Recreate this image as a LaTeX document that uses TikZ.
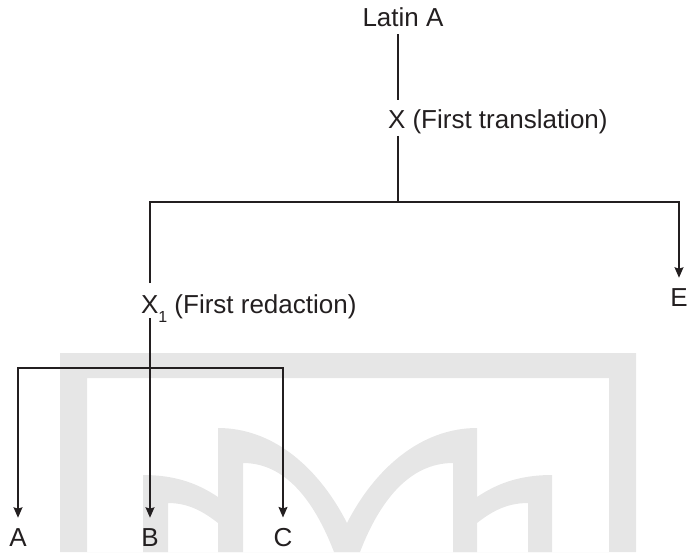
\documentclass[tikz,border=0pt]{standalone}
\usepackage{fontspec}
\setmainfont{Liberation Sans}
\usetikzlibrary{arrows.meta}
\definecolor{ink}{HTML}{231F20}
\definecolor{emblem}{HTML}{E6E6E6}
\begin{document}
\begin{tikzpicture}[x=1pt,y=-1pt,
  lbl/.style={inner sep=0pt, outer sep=0pt, text=ink, anchor=base,
              font=\fontsize{26}{30}\selectfont},
  wire/.style={draw=ink, line width=1.1pt},
  arr/.style={wire, -{Stealth[length=10.5pt,width=9pt,inset=1.5pt]}},
]
\useasboundingbox (0,0) rectangle (688,552);

% light background emblem: frame and arches
\fill[emblem, even odd rule] (60,353) rectangle (636,552) (87,378) rectangle (609,552);
\fill[emblem] (143,552) -- (143,475)
  .. controls (178,475) and (200,485) .. (218,497) -- (218,428)
  .. controls (275,428) and (320,470) .. (347,523)
  .. controls (374,470) and (420,428) .. (477,428) -- (477,497)
  .. controls (495,485) and (517,475) .. (552,475) -- (552,552) -- (528,552) -- (528,503)
  .. controls (505,503) and (490,513) .. (477,523) -- (477,552) -- (453,552) -- (453,463)
  .. controls (410,463) and (380,500) .. (360,552) -- (334,552)
  .. controls (314,500) and (285,463) .. (243,463) -- (243,552) -- (218,552) -- (218,523)
  .. controls (205,513) and (190,503) .. (168,503) -- (168,552) -- cycle;

% labels
\node[lbl] (lat) at (403,26) {Latin A};
\node[lbl, anchor=base west] (xft) at (388,128) {X (First translation)};
\node[lbl, anchor=base west] (xfr) at (141,313)
  {X\raisebox{-9pt}[0pt][0pt]{\fontsize{16}{16}\selectfont 1} (First redaction)};
\node[lbl] (e) at (679,306) {E};
\node[lbl] (a) at (18,546) {A};
\node[lbl] (b) at (150,546) {B};
\node[lbl] (c) at (283,546) {C};

% junctions
\coordinate (j1) at (398,202);
\coordinate (j2) at (150,368);

% connectors
\draw[wire, shorten <=8pt, shorten >=9pt] (lat.south -| j1) -- (xft.north -| j1);
\draw[wire, shorten <=2.5pt] (xft.south -| j1) -- (j1);
\draw[arr, shorten <=11pt, shorten >=10.4pt] (xfr.north -| b) |- (j1) -| (e.north);
\draw[arr, shorten >=10.4pt] (xfr.south -| b) -- (b.north);
\draw[arr, shorten >=10.4pt] (j2) -| (a.north);
\draw[arr, shorten >=10.4pt] (j2) -| (c.north);
\end{tikzpicture}
\end{document}
